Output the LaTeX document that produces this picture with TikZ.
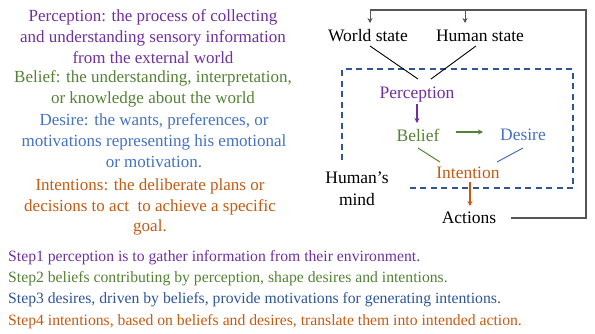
\documentclass[tikz,border=0pt]{standalone}
\usepackage{fontspec}
\setmainfont{Liberation Serif}
\usetikzlibrary{arrows.meta}
\definecolor{cpur}{HTML}{7030A0}
\definecolor{cgrn}{HTML}{548235}
\definecolor{cblu}{HTML}{4472C4}
\definecolor{cdblu}{HTML}{2F5597}
\definecolor{cora}{HTML}{C55A11}
\definecolor{cgry}{HTML}{555555}
\begin{document}
\begin{tikzpicture}[x=1pt,y=-1pt,
  txt/.style={font=\fontsize{17}{20.7}\selectfont, inner sep=0pt, align=center},
  stp/.style={font=\fontsize{15.7}{20.7}\selectfont, inner sep=0pt, anchor=west},
  lbl/.style={font=\fontsize{17.5}{18}\selectfont, inner sep=1pt},
  arr/.style={-{Stealth[length=5pt,width=5pt]}, line width=1.2pt}]
\useasboundingbox (0,0) rectangle (595,333);
% left definitions
\node[txt, text=cpur] (dperc) at (153,36.5) {Perception: the process of collecting\\and understanding sensory information\\from the external world};
\node[txt, text=cgrn] (dbel) at (153,88.5) {Belief: the understanding, interpretation,\\or knowledge about the world};
\node[txt, text=cblu] (ddes) at (154,140.5) {Desire: the wants, preferences, or\\motivations representing his emotional\\or motivation.};
\node[txt, text=cora] (dint) at (150,207) {Intentions: the deliberate plans or\\decisions to act\ \ to achieve a specific\\goal.};
% steps
\node[stp, text=cpur] (s1) at (8,258) {Step1 perception is to gather information from their environment.};
\node[stp, text=cgrn] (s2) at (8,279) {Step2 beliefs contributing by perception, shape desires and intentions.};
\node[stp, text=cdblu] (s3) at (8,300) {Step3 desires, driven by beliefs, provide motivations for generating intentions.};
\node[stp, text=cora] (s4) at (8,321.5) {Step4 intentions, based on beliefs and desires, translate them into intended action.};
% diagram
\node[lbl] (world) at (368,36) {World state};
\node[lbl] (human) at (480,36) {Human state};
\node[lbl, text=cpur] (perc) at (417,95) {Perception};
\node[lbl, text=cgrn] (bel) at (418,135) {Belief};
\node[lbl, text=cblu] (des) at (523,135) {Desire};
\node[lbl, text=cora] (int) at (468,173) {Intention};
\node[lbl] (act) at (469,218) {Actions};
\node[lbl, align=center, font=\fontsize{17.5}{21.5}\selectfont] (mind) at (357,189) {Human's\\mind};
% dashed box
\draw[cdblu, line width=1.2pt, dash pattern=on 6pt off 4.5pt] (342,160) -- (342,69) -- (573,69) -- (573,188) -- (409,188);
% connectors
\draw[black, line width=0.9pt] (370,46) -- (418,79);
\draw[black, line width=0.9pt] (476,46) -- (431,79);
\draw[arr, cpur] (417,104) -- (417,123);
\draw[arr, cgrn] (456,132) -- (483,132);
\draw[cgrn, line width=1pt] (418,148) -- (440,162);
\draw[cblu, line width=1pt] (523,148) -- (497,162);
\draw[arr, cora] (470,182) -- (470,206);
% feedback loop
\coordinate (wtop) at (370,10);
\coordinate (htop) at (465,10);
\draw[cgry, line width=1.3pt] (511,218) -- (586,218) -- (586,10) -- (wtop);
\draw[arr, cgry, line width=1pt] (wtop) -- (370,23);
\draw[arr, cgry, line width=1pt] (htop) -- (465,23);
\end{tikzpicture}
\end{document}
